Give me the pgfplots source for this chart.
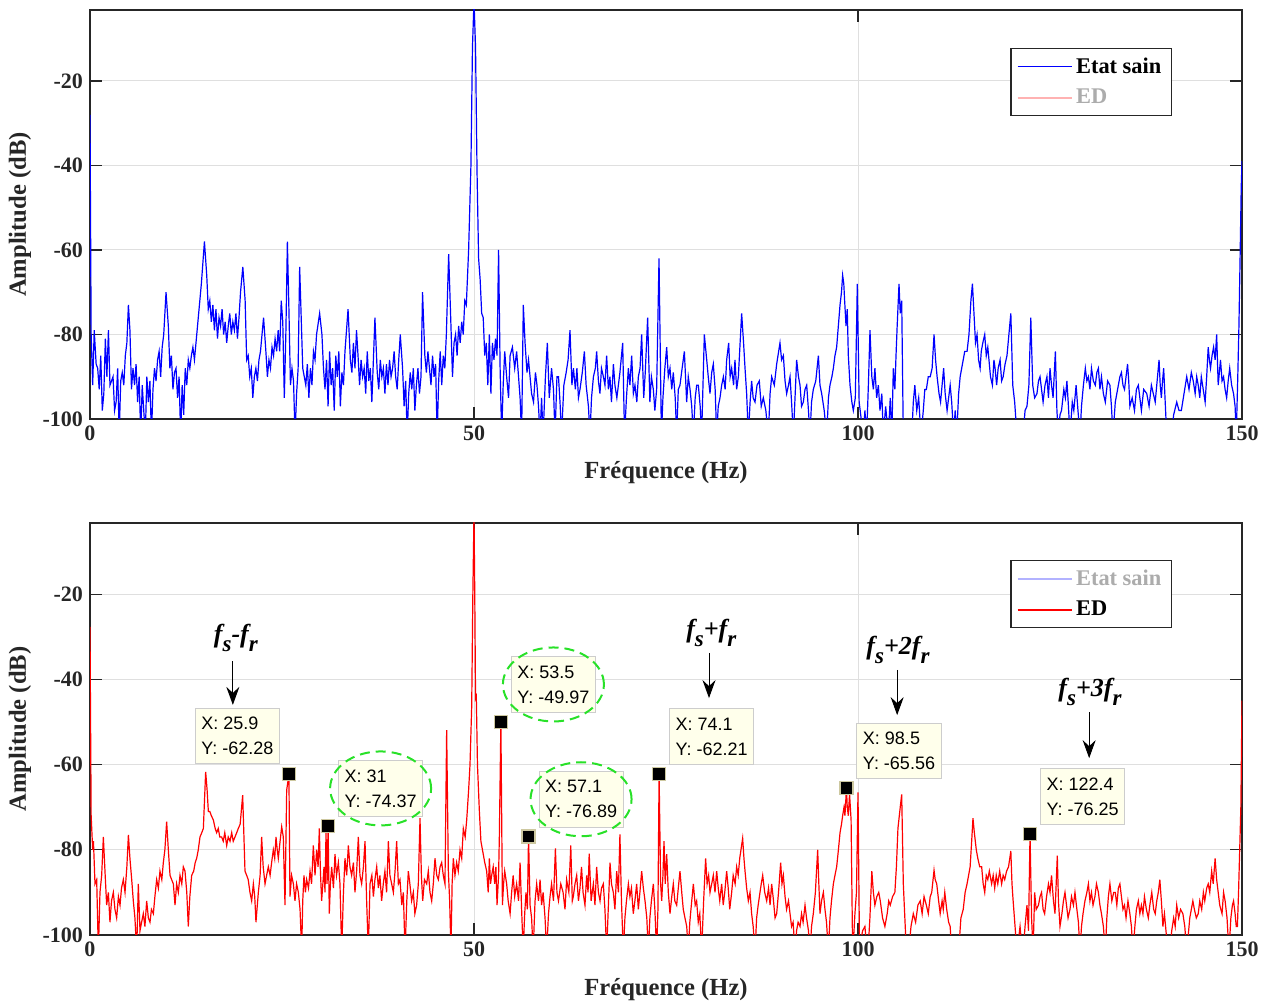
\documentclass[border=0pt]{standalone}
\usepackage{fontspec}
\setmainfont{Liberation Serif}
\newfontfamily\tipfont{Liberation Sans}
\usepackage{pgfplots}
\pgfplotsset{compat=1.18}
\usepackage{pgfplotstable}
\usetikzlibrary{arrows.meta}

\definecolor{gridgray}{RGB}{223,223,223}
\definecolor{axisgray}{RGB}{38,38,38}
\definecolor{tipfill}{RGB}{255,255,235}
\definecolor{tipedge}{RGB}{205,205,205}
\definecolor{tipmark}{RGB}{205,200,160}
\definecolor{ringgreen}{RGB}{40,225,40}

% subscript as set by the tex interpreter: lowered, nearly full size
\newcommand\sub[1]{\raisebox{-4.5pt}{\fontsize{11.5}{11.5}\selectfont #1}}

% spectrum, healthy machine (values below -100 dB are clipped by the axis)
\pgfplotstableread{
f a
0 -28
0.15 -80
0.35 -92
0.55 -79
0.8 -87
1.0 -88
1.2 -93
1.4 -85
1.6 -98
1.8 -94
2.0 -81
2.2 -90
2.4 -79
2.6 -92
2.8 -91
3.0 -90
3.2 -98
3.4 -96
3.6 -88
3.8 -104
4.0 -91
4.2 -89
4.4 -92
4.6 -85
4.8 -82
5.0 -73
5.2 -79
5.4 -93
5.6 -88
5.8 -92
6.0 -87
6.2 -96
6.4 -90
6.6 -104
6.8 -92
7.0 -98
7.2 -104
7.4 -90
7.6 -96
7.8 -91
8.0 -104
8.2 -93
8.4 -88
8.6 -91
8.8 -86
9.0 -84
9.2 -90
9.4 -83
9.6 -80
9.9 -70
10.2 -78
10.4 -88
10.6 -85
10.8 -93
11.0 -89
11.2 -88
11.4 -95
11.6 -90
11.8 -104
12.0 -92
12.2 -99
12.4 -88
12.6 -92
12.8 -86
13.0 -88
13.2 -85
13.4 -83
13.6 -86
13.8 -82
14.0 -78
14.2 -74
14.5 -68
14.9 -58
15.2 -66
15.4 -74
15.6 -72
15.8 -77
16.0 -73
16.2 -79
16.4 -74
16.6 -81
16.8 -76
17.0 -78
17.2 -74
17.4 -80
17.6 -77
17.8 -82
18.0 -78
18.2 -75
18.4 -80
18.6 -77
18.8 -79
19.0 -75
19.2 -81
19.4 -76
19.6 -70
19.9 -64
20.2 -72
20.4 -86
20.6 -85
20.8 -90
21.0 -88
21.2 -95
21.4 -90
21.6 -88
21.8 -91
22.0 -86
22.2 -84
22.6 -76
22.9 -84
23.1 -90
23.3 -86
23.5 -88
23.7 -83
23.9 -85
24.1 -81
24.3 -84
24.5 -79
24.7 -84
24.9 -72
25.1 -77
25.3 -95
25.5 -80
25.7 -58
25.9 -74
26.1 -92
26.3 -88
26.5 -91
26.7 -104
26.9 -94
27.1 -88
27.3 -64
27.5 -76
27.7 -88
27.9 -90
28.1 -92
28.3 -87
28.5 -95
28.7 -88
28.9 -92
29.1 -84
29.3 -86
29.5 -80
29.9 -75
30.2 -80
30.4 -88
30.6 -93
30.8 -86
31.0 -97
31.2 -84
31.4 -92
31.6 -88
31.8 -98
32.0 -85
32.2 -90
32.4 -84
32.6 -97
32.8 -89
33.0 -92
33.2 -84
33.6 -74
33.9 -86
34.1 -89
34.3 -82
34.5 -88
34.7 -79
34.9 -85
35.1 -92
35.3 -86
35.5 -90
35.7 -88
35.9 -94
36.1 -84
36.3 -91
36.5 -88
36.7 -96
36.9 -86
37.1 -76
37.4 -89
37.6 -93
37.8 -86
38.0 -90
38.2 -88
38.4 -94
38.6 -87
38.8 -92
39.0 -86
39.2 -90
39.4 -88
39.6 -84
39.8 -90
40.0 -93
40.2 -86
40.4 -80
40.7 -88
40.9 -97
41.1 -91
41.3 -104
41.5 -94
41.7 -89
41.9 -93
42.1 -88
42.3 -98
42.5 -92
42.7 -88
42.9 -94
43.1 -90
43.3 -70
43.6 -85
43.8 -89
44.0 -84
44.2 -88
44.4 -92
44.6 -85
44.8 -90
45.0 -87
45.2 -104
45.4 -91
45.6 -84
45.8 -92
46.0 -85
46.2 -88
46.4 -80
46.7 -61
47.0 -78
47.2 -90
47.4 -82
47.6 -80
47.8 -85
48.0 -78
48.2 -82
48.4 -77
48.6 -80
48.8 -72
49.0 -73
49.3 -60
49.6 -40
49.8 -12
50.0 -1
50.2 -12
50.4 -42
50.6 -62
50.8 -67
51.0 -75
51.2 -76
51.4 -85
51.6 -82
51.8 -92
52.0 -80
52.2 -94
52.4 -82
52.6 -86
52.8 -81
53.0 -85
53.2 -60
53.4 -88
53.6 -104
53.8 -92
54.0 -84
54.25 -90
54.5 -95
54.7 -85
55.0 -83
55.3 -88
55.55 -84
55.8 -90
56.0 -95
56.2 -104
56.42 -73
56.65 -82
56.9 -89
57.1 -86
57.3 -90
57.5 -94
57.75 -96
58.0 -89
58.2 -92
58.4 -97
58.6 -104
58.8 -95
59.0 -104
59.3 -90
59.55 -82
59.8 -95
60.1 -88
60.35 -93
60.55 -104
60.8 -90
61.0 -90
61.2 -96
61.4 -104
61.7 -92
62.0 -89
62.25 -86
62.5 -79
62.75 -92
62.95 -88
63.2 -93
63.4 -88
63.6 -95
63.8 -93
64.1 -89
64.37 -84
64.6 -92
64.9 -97
65.1 -104
65.3 -95
65.55 -90
65.8 -88
65.97 -84
66.2 -91
66.4 -94
66.6 -88
66.85 -90
67.05 -92
67.27 -85
67.5 -93
67.7 -90
67.9 -96
68.15 -87
68.35 -92
68.6 -95
68.8 -92
69.0 -89
69.36 -82
69.6 -104
69.85 -95
70.1 -88
70.3 -92
70.53 -85
70.75 -94
70.96 -92
71.2 -96
71.4 -90
71.62 -88
71.83 -80
72.1 -95
72.3 -89
72.61 -76
72.9 -96
73.1 -90
73.35 -93
73.55 -98
73.78 -93
74.09 -62
74.4 -104
74.6 -95
74.85 -88
75.09 -83
75.3 -90
75.52 -88
75.75 -93
75.95 -89
76.2 -95
76.39 -104
76.6 -93
76.82 -92
77.1 -88
77.39 -84
77.69 -96
77.9 -90
78.13 -93
78.35 -97
78.56 -104
78.8 -95
79.0 -92
79.21 -92
79.45 -97
79.64 -104
79.99 -80
80.3 -86
80.5 -90
80.73 -94
80.95 -89
81.16 -87
81.4 -93
81.6 -104
81.8 -97
82.03 -95
82.25 -92
82.47 -90
82.7 -93
82.9 -86
83.16 -82
83.35 -90
83.55 -88
83.8 -92
83.98 -86
84.2 -93
84.42 -90
84.85 -75
85.1 -82
85.29 -88
85.5 -94
85.72 -104
85.95 -96
86.15 -91
86.35 -95
86.59 -96
86.85 -92
87.15 -91
87.4 -97
87.67 -95
88.0 -98
88.32 -104
88.55 -94
88.76 -90
89.1 -92
89.41 -87
89.84 -82
90.05 -86
90.28 -85
90.5 -91
90.71 -94
90.95 -92
91.15 -90
91.35 -96
91.58 -104
91.8 -95
92.01 -86
92.25 -90
92.45 -92
92.65 -97
92.88 -96
93.1 -93
93.32 -92
93.55 -98
93.75 -104
93.95 -96
94.18 -93
94.5 -91
94.84 -85
95.05 -92
95.27 -94
95.6 -98
95.92 -104
96.15 -95
96.35 -92
96.6 -90
96.79 -88
97.0 -85
97.22 -83
97.44 -78
97.66 -73
97.85 -70
98.0 -66
98.15 -68
98.26 -72
98.44 -78
98.6 -74
98.74 -85
98.96 -92
99.2 -96
99.39 -98
99.65 -95
99.91 -68
100.15 -96
100.35 -99
100.69 -104
100.9 -98
101.13 -104
101.35 -92
101.56 -79
101.8 -90
102.0 -93
102.2 -88
102.43 -95
102.65 -92
102.86 -98
103.1 -94
103.3 -104
103.6 -97
103.95 -104
104.2 -95
104.4 -104
104.6 -88
104.8 -93
104.95 -85
105.1 -78
105.34 -68
105.5 -75
105.69 -72
105.9 -104
106.12 -104
106.4 -104
106.77 -104
107.0 -104
107.2 -96
107.4 -92
107.65 -98
107.9 -95
108.2 -104
108.5 -98
108.7 -93
108.9 -93
109.15 -90
109.4 -90
109.65 -88
109.9 -80
110.1 -86
110.3 -90
110.55 -94
110.75 -96
110.95 -92
111.15 -88
111.35 -94
111.6 -98
111.8 -95
112.0 -92
112.2 -96
112.45 -104
112.65 -98
112.85 -104
113.1 -94
113.3 -90
113.6 -87
113.9 -84
114.2 -84
114.45 -80
114.7 -72
114.9 -68
115.1 -75
115.3 -82
115.5 -80
115.7 -86
115.9 -88
116.05 -84
116.25 -82
116.5 -80
116.7 -85
116.9 -83
117.05 -86
117.25 -90
117.5 -92
117.7 -86
117.85 -88
118.05 -92
118.25 -88
118.5 -86
118.7 -91
118.9 -90
119.15 -87
119.4 -85
119.65 -80
119.9 -75
120.15 -92
120.4 -96
120.7 -104
120.9 -104
121.2 -104
121.5 -104
121.75 -98
122.0 -97
122.25 -92
122.5 -76
122.75 -92
123.0 -95
123.3 -94
123.5 -91
123.7 -90
123.9 -93
124.1 -96
124.35 -92
124.6 -90
124.8 -95
125.0 -88
125.2 -92
125.4 -95
125.7 -84
125.9 -98
126.1 -104
126.3 -99
126.5 -98
126.8 -93
127.0 -95
127.2 -91
127.4 -97
127.6 -104
127.9 -96
128.1 -98
128.4 -92
128.6 -97
128.9 -104
129.1 -97
129.35 -92
129.6 -88
129.8 -91
130.0 -90
130.2 -93
130.4 -88
130.65 -91
130.9 -92
131.1 -89
131.3 -88
131.5 -93
131.7 -90
131.95 -94
132.2 -96
132.5 -91
132.8 -92
133.0 -97
133.2 -104
133.5 -96
133.9 -92
134.1 -90
134.3 -89
134.5 -92
134.7 -93
134.9 -90
135.1 -87
135.25 -91
135.4 -97
135.7 -95
136.0 -98
136.25 -93
136.5 -92
136.7 -95
136.9 -98
137.2 -93
137.6 -94
137.9 -97
138.2 -92
138.45 -94
138.7 -96
138.95 -91
139.2 -86
139.35 -92
139.5 -95
139.65 -91
139.8 -88
140.0 -96
140.2 -104
140.5 -104
140.8 -104
141.1 -99
141.5 -96
141.8 -98
142.1 -98
142.45 -94
142.8 -90
143.1 -93
143.4 -89
143.65 -91
143.9 -94
144.1 -90
144.3 -92
144.5 -95
144.7 -90
144.95 -93
145.2 -96
145.4 -90
145.6 -83
145.75 -86
145.9 -88
146.1 -85
146.3 -83
146.5 -86
146.7 -80
146.9 -92
147.05 -89
147.2 -86
147.4 -91
147.6 -90
147.8 -93
148.0 -95
148.2 -91
148.4 -88
148.65 -92
148.9 -94
149.1 -97
149.25 -104
149.45 -90
149.6 -78
149.75 -62
149.9 -45
150.0 -39
}\sain

% spectrum, faulty machine (ED)
\pgfplotstableread{
f a
0 -27.7
0.15 -72
0.35 -80
0.45 -78
0.65 -88
0.87 -87
1.09 -104
1.3 -90
1.52 -86
1.74 -77
1.95 -85
2.17 -93
2.39 -90
2.6 -97
2.8 -92
3.04 -90
3.25 -94
3.47 -96
3.7 -91
3.91 -93
4.1 -89
4.34 -87
4.56 -90
4.8 -84
5.0 -76.5
5.2 -82
5.43 -87
5.64 -92
5.85 -96
6.08 -104
6.29 -88
6.51 -99
6.72 -97
6.94 -95
7.15 -98
7.38 -92
7.6 -96
7.81 -97
8.0 -94
8.25 -95
8.45 -91
8.68 -87
8.9 -89
9.11 -85
9.35 -87
9.55 -83
9.75 -80
9.98 -73.4
10.2 -80
10.42 -86
10.63 -87
10.85 -88
11.07 -93
11.28 -88
11.5 -90
11.72 -86
11.95 -88
12.15 -84
12.37 -85
12.6 -90
12.8 -98
13.0 -91
13.24 -86
13.5 -85
13.7 -83
13.89 -82
14.1 -80
14.32 -77
14.55 -76
14.76 -75
15.06 -61.7
15.25 -66
15.41 -71
15.6 -71
15.8 -72
16.06 -73
16.3 -75
16.49 -76
16.7 -75
16.9 -77
17.14 -77
17.35 -78
17.55 -76
17.8 -79
18.0 -77
18.23 -78
18.45 -76
18.65 -78
18.88 -77
19.1 -76
19.31 -75
19.55 -74
19.88 -67.2
20.18 -85
20.4 -86
20.6 -87
20.83 -90
21.05 -92
21.27 -88
21.45 -91
21.61 -97
21.92 -90
22.15 -86
22.35 -77
22.55 -84
22.79 -88
23.0 -86
23.22 -84
23.45 -86
23.65 -83
23.87 -80
24.05 -82
24.22 -77
24.38 -80
24.52 -82
24.75 -78
24.96 -74.6
25.17 -77
25.39 -93
25.61 -66
25.9 -62.28
26.04 -91
26.25 -86
26.48 -88
26.69 -92
26.9 -88
27.13 -90
27.35 -94
27.56 -104
27.7 -92
27.86 -86
28.05 -90
28.21 -87
28.45 -89
28.65 -85
28.85 -88
29.08 -79
29.3 -86
29.51 -80
29.7 -84
29.86 -75
30.0 -85
30.16 -92
30.32 -88
30.47 -84
30.6 -90
30.73 -76
30.87 -88
31.0 -74.37
31.16 -95
31.3 -88
31.47 -84
31.7 -89
31.9 -81
32.1 -86
32.34 -83
32.55 -88
32.77 -104
33.0 -90
33.2 -82
33.42 -86
33.64 -79
33.85 -84
34.07 -86
34.3 -83
34.5 -90
34.72 -85
34.94 -77
35.15 -86
35.37 -88
35.6 -84
35.81 -78
36.02 -92
36.24 -104
36.46 -88
36.7 -86
36.9 -91
37.1 -87
37.33 -84
37.55 -89
37.75 -86
37.97 -92
38.19 -88
38.4 -85
38.62 -90
38.85 -78
39.05 -86
39.28 -88
39.5 -90
39.72 -85
39.93 -78
40.15 -88
40.36 -87
40.6 -93
40.8 -90
41.02 -104
41.25 -92
41.45 -85
41.65 -88
41.88 -92
42.1 -90
42.3 -95
42.53 -93
42.75 -88
42.97 -72.6
43.15 -86
43.32 -92
43.55 -87
43.84 -88
44.05 -85
44.27 -90
44.49 -92
44.7 -88
44.92 -82
45.15 -86
45.36 -87
45.58 -84
45.79 -83
46.0 -86
46.22 -88
46.44 -51.9
46.66 -85
46.83 -92
47.0 -104
47.15 -88
47.31 -82
47.52 -86
47.74 -83
47.95 -85
48.18 -80
48.4 -82
48.61 -75
48.85 -77
49.05 -73
49.3 -66
49.48 -60
49.7 -46.4
49.85 -20
50.0 -1
50.1 -20
50.2 -44.5
50.3 -44
50.45 -60
50.7 -71
50.9 -78
51.1 -80
51.4 -83
51.65 -85
51.85 -90
52.0 -82
52.15 -88
52.3 -86
52.5 -84
52.7 -88
52.85 -84
53.0 -93
53.2 -86
53.3 -77
53.5 -49.97
53.7 -93
53.85 -88
54.0 -85
54.25 -88
54.45 -92
54.7 -95
54.9 -90
55.1 -86
55.3 -91
55.55 -88
55.8 -92
56.0 -83
56.2 -94
56.4 -104
56.6 -95
56.77 -90
56.95 -94
57.1 -76.89
57.3 -93
57.5 -96
57.7 -104
57.95 -92
58.16 -88
58.4 -92
58.6 -87
58.8 -93
59.0 -90
59.25 -96
59.46 -104
59.7 -95
59.9 -91
60.1 -88
60.35 -92
60.6 -79.7
60.8 -90
61.0 -92
61.3 -88
61.6 -90
61.85 -94
62.06 -87
62.35 -90
62.6 -79
62.8 -92
62.93 -91
63.15 -88
63.37 -86
63.6 -92
63.8 -89
64.0 -84
64.2 -90
64.45 -93
64.67 -86
64.85 -90
65.0 -80.9
65.25 -92
65.54 -88
65.75 -93
65.97 -84
66.2 -90
66.41 -92
66.6 -89
66.84 -88
67.05 -94
67.27 -104
67.5 -93
67.71 -83
67.9 -88
68.14 -90
68.35 -94
68.58 -85
68.8 -90
69.0 -76.4
69.2 -92
69.44 -104
69.65 -96
69.85 -92
70.1 -88
70.3 -91
70.5 -89
70.74 -95
70.95 -92
71.18 -88
71.4 -94
71.6 -90
71.83 -85
72.05 -89
72.27 -92
72.5 -96
72.7 -104
72.9 -96
73.1 -92
73.35 -88
73.55 -94
73.78 -104
73.95 -94
74.1 -62.21
74.3 -88
74.44 -92
74.6 -86
74.74 -78
74.9 -88
75.09 -81
75.3 -90
75.52 -95
75.75 -91
75.95 -88
76.15 -92
76.39 -93
76.6 -89
76.82 -85
77.05 -90
77.25 -94
77.47 -96
77.7 -98
77.9 -104
78.1 -97
78.35 -92
78.56 -88
78.8 -93
78.99 -92
79.2 -97
79.4 -95
79.64 -104
79.9 -92
80.16 -82
80.35 -88
80.55 -86
80.73 -90
80.95 -88
81.16 -86
81.38 -90
81.6 -85
81.8 -89
82.0 -92
82.25 -88
82.45 -93
82.65 -90
82.9 -85
83.1 -89
83.3 -94
83.55 -90
83.75 -86
84.0 -88
84.2 -84
84.4 -86
84.6 -82
84.98 -77.3
85.15 -82
85.29 -85
85.5 -89
85.72 -92
85.94 -90
86.15 -95
86.35 -98
86.59 -104
86.8 -96
87.0 -93
87.24 -90
87.4 -88
87.59 -86
87.85 -90
88.11 -92
88.35 -89
88.55 -93
88.76 -88
89.0 -92
89.2 -96
89.41 -95
89.65 -90
89.93 -83
90.1 -88
90.28 -86
90.5 -91
90.7 -94
90.95 -92
91.15 -95
91.35 -98
91.55 -97
91.8 -104
92.0 -99
92.2 -97
92.45 -98
92.65 -95
92.85 -97
93.1 -93
93.3 -96
93.55 -99
93.75 -104
93.95 -98
94.18 -95
94.45 -90
94.75 -80
94.9 -88
95.05 -95
95.25 -92
95.49 -90
95.7 -94
95.9 -97
96.14 -104
96.35 -96
96.55 -92
96.79 -88
97.0 -86
97.22 -84
97.45 -80
97.66 -76
97.85 -74
98.0 -72
98.18 -70
98.3 -72
98.5 -65.56
98.6 -70
98.74 -72
98.9 -66.9
99.1 -73
99.3 -104
99.45 -100
99.6 -95
99.8 -90
100.0 -66.5
100.2 -104
100.4 -101
100.6 -99
100.9 -98
101.1 -102
101.3 -104
101.55 -96
101.8 -85
102.0 -90
102.2 -93
102.45 -91
102.7 -90
102.9 -92
103.2 -96
103.5 -98
103.8 -95
104.0 -92
104.2 -93
104.5 -91
104.8 -90
105.0 -84
105.2 -75
105.5 -70
105.69 -67
105.9 -88
106.1 -96
106.3 -104
106.6 -104
106.9 -98
107.2 -95
107.5 -97
107.8 -93
108.1 -92
108.35 -95
108.6 -91
108.9 -93
109.15 -95
109.4 -91
109.6 -90
109.9 -84.8
110.05 -87
110.25 -88
110.5 -92
110.7 -95
110.95 -92
111.1 -94
111.3 -90
111.55 -94
111.8 -97
112.0 -98
112.2 -104
112.4 -104
112.7 -104
113.1 -104
113.4 -96
113.7 -94
113.95 -90
114.2 -88
114.4 -86
114.6 -84
114.8 -78
114.97 -72.6
115.15 -76
115.4 -80
115.6 -82
115.85 -84
116.1 -84
116.3 -88
116.5 -90
116.7 -86
116.9 -87
117.1 -85
117.4 -88
117.6 -86
117.8 -89
118.0 -86
118.2 -88
118.45 -85
118.7 -88
118.9 -86
119.1 -87
119.35 -85
119.6 -84
119.9 -80.3
120.05 -88
120.2 -92
120.45 -98
120.7 -104
120.9 -101
121.1 -98
121.3 -102
121.5 -104
121.75 -98
122.0 -93
122.2 -99
122.4 -76.25
122.6 -96
122.8 -104
123.0 -90
123.2 -94
123.5 -93
123.7 -91
123.9 -90
124.1 -94
124.3 -95
124.55 -91
124.8 -88
125.0 -90
125.2 -86
125.45 -92
125.65 -95
125.95 -81.4
126.1 -92
126.3 -98
126.55 -95
126.75 -92
126.95 -90
127.15 -93
127.35 -96
127.6 -94
127.8 -91
128.05 -93
128.25 -90
128.5 -94
128.7 -97
128.9 -104
129.1 -98
129.3 -95
129.55 -92
129.8 -90
130.0 -88
130.2 -92
130.4 -90
130.6 -93
130.85 -91
131.05 -88
131.3 -90
131.5 -93
131.7 -95
131.95 -98
132.2 -104
132.4 -96
132.6 -91
132.8 -88
133.05 -92
133.3 -90
133.5 -90
133.7 -93
133.9 -89
134.1 -88
134.3 -91
134.5 -94
134.7 -93
134.9 -96
135.15 -92
135.4 -95
135.6 -98
135.8 -104
136.05 -98
136.25 -94
136.5 -92
136.7 -95
136.9 -93
137.1 -95
137.3 -91
137.55 -94
137.8 -96
138.0 -93
138.25 -90
138.5 -94
138.7 -95
138.9 -92
139.1 -90
139.3 -87
139.5 -92
139.7 -98
139.9 -95
140.1 -99
140.35 -104
140.6 -104
140.85 -99
141.1 -96
141.3 -98
141.5 -93
141.75 -96
142.0 -94
142.3 -95
142.55 -98
142.8 -104
143.0 -100
143.2 -96
143.4 -94
143.6 -92
143.8 -94
144.05 -96
144.3 -95
144.5 -92
144.75 -94
144.97 -90
145.15 -92
145.4 -89
145.6 -88
145.8 -90
146.05 -85
146.25 -88
146.5 -82
146.7 -87
146.9 -90
147.1 -93
147.4 -95
147.6 -90
147.8 -92
148.05 -96
148.3 -104
148.55 -96
148.75 -93
148.9 -92
149.1 -95
149.25 -98
149.4 -98
149.55 -90
149.7 -80
149.85 -70
150.0 -45
}\defaut

\pgfplotsset{
  spec/.style={
    width=576pt, scale only axis,
    xmin=0, xmax=150, ymin=-100,
    xtick={0,50,100,150}, xticklabels={0,50,100,150},
    ytick={-100,-80,-60,-40,-20}, yticklabels={-100,-80,-60,-40,-20},
    grid=major, major grid style={gridgray, line width=0.5pt},
    tick align=inside, major tick length=6pt,
    axis line style={axisgray, line width=0.6pt},
    every tick/.style={axisgray, line width=0.6pt},
    tick label style={font=\bfseries\fontsize{11}{13}\selectfont, text=axisgray},
    label style={font=\bfseries\fontsize{12.3}{14}\selectfont, text=axisgray},
    xlabel={Fréquence (Hz)}, ylabel={Amplitude (dB)},
    ylabel style={at={(axis description cs:-0.0608,0.5)}, anchor=center},
    legend style={anchor=north east, draw=axisgray, line width=0.6pt, fill=white,
      font=\bfseries\fontsize{11.2}{13}\selectfont, inner xsep=3pt, inner ysep=2.5pt,
      row sep=2.5pt, cells={anchor=west}},
    legend image code/.code={\draw[#1, line width=0.6pt] (0pt,0pt) -- (27pt,0pt);},
  },
}
\tikzset{
  tip/.style={draw=tipedge, fill=tipfill, line width=0.5pt,
    font=\tipfont\fontsize{9}{12.5}\selectfont, text=black, align=left,
    inner xsep=3pt, inner ysep=4.5pt},
  ring/.style={ringgreen, line width=1pt, dash pattern=on 5pt off 3pt},
  harm/.style={font=\bfseries\itshape\fontsize{13}{13}\selectfont, text=black},
  pointer/.style={-{Stealth[length=9pt, width=6.5pt, inset=3pt]}, line width=0.5pt, black},
}

\begin{document}
\begin{tikzpicture}
\useasboundingbox (0pt,0pt) rectangle (637.5pt,502.5pt);

% healthy state
\begin{axis}[spec, at={(45pt,293pt)}, height=204.5pt, ymax=-3.2,
  xlabel style={at={(axis description cs:0.5,-0.132)}, anchor=center},
  legend style={at={(0.9392,0.907)}}]
\addplot[blue, line width=0.6pt] table[x=f, y=a] {\sain};
\addlegendentry{Etat sain}
\addlegendimage{red!30}
\addlegendentry{\textcolor{gray!65}{ED}}
\end{axis}

% faulty state with data tips
\begin{axis}[spec, at={(45pt,35pt)}, height=206pt, ymax=-3.3,
  xlabel style={at={(axis description cs:0.5,-0.1335)}, anchor=center},
  legend style={at={(0.9392,0.910)}}]
\addlegendimage{blue!30}
\addlegendentry{\textcolor{gray!65}{Etat sain}}
\addplot[red, line width=0.6pt] table[x=f, y=a] {\defaut};
\addlegendentry{ED}
\addplot[only marks, mark=square*, mark size=3.25pt,
  mark options={fill=black, draw=tipmark, line width=0.6pt}, forget plot]
  coordinates {(25.9,-62.28) (31,-74.37) (53.5,-49.97) (57.1,-76.89)
               (74.1,-62.21) (98.5,-65.56) (122.4,-76.25)};

\node[tip, anchor=south east] at ([shift={(-4.5pt,5pt)}]axis cs:25.9,-62.28) {X: 25.9\\Y: -62.28};
\node[tip, anchor=south west] (t31) at ([shift={(5pt,4.5pt)}]axis cs:31,-74.37) {X: 31\\Y: -74.37};
\node[tip, anchor=south west] (t53) at ([shift={(5pt,4.5pt)}]axis cs:53.5,-49.97) {X: 53.5\\Y: -49.97};
\node[tip, anchor=south west] (t57) at ([shift={(5pt,4.5pt)}]axis cs:57.1,-76.89) {X: 57.1\\Y: -76.89};
\node[tip, anchor=south west] at ([shift={(5pt,4.5pt)}]axis cs:74.1,-62.21) {X: 74.1\\Y: -62.21};
\node[tip, anchor=south west] at ([shift={(5pt,4.5pt)}]axis cs:98.5,-65.56) {X: 98.5\\Y: -65.56};
\node[tip, anchor=south west] at ([shift={(5pt,4.5pt)}]axis cs:122.4,-76.25) {X: 122.4\\Y: -76.25};

\draw[ring] (t31.center) ellipse [x radius=25.25pt, y radius=18.5pt];
\draw[ring] (t53.center) ellipse [x radius=25.25pt, y radius=18.5pt];
\draw[ring] (t57.center) ellipse [x radius=25.25pt, y radius=18.5pt];

\node[harm] at (axis cs:19.0,-30.3) {f\sub{s}-f\sub{r}};
\draw[pointer] (axis cs:18.6,-35.7) -- (axis cs:18.6,-46.0);
\node[harm] at (axis cs:80.9,-29.2) {f\sub{s}+f\sub{r}};
\draw[pointer] (axis cs:80.6,-33.8) -- (axis cs:80.6,-44.4);
\node[harm] at (axis cs:105.2,-33.1) {f\sub{s}+2f\sub{r}};
\draw[pointer] (axis cs:105.1,-37.8) -- (axis cs:105.1,-48.4);
\node[harm] at (axis cs:130.2,-43.0) {f\sub{s}+3f\sub{r}};
\draw[pointer] (axis cs:130.1,-47.7) -- (axis cs:130.1,-58.5);
\end{axis}
\end{tikzpicture}
\end{document}
